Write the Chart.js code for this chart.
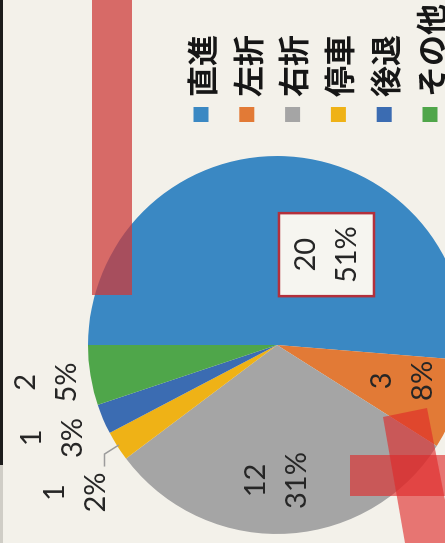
<!DOCTYPE html>
<html lang="ja">
<head>
<meta charset="utf-8">
<title>事故時の車両の動き</title>
<script src="https://cdn.jsdelivr.net/npm/chart.js@4.4.1/dist/chart.umd.min.js"></script>
<style>
  html, body {
    margin: 0;
    padding: 0;
  }
  body {
    width: 445px;
    height: 543px;
    overflow: hidden;
    position: relative;
    background: #f3f1ea;
  }
  /* the sheet is photographed lying on its side */
  #sheet {
    position: absolute;
    left: 0;
    top: 0;
    width: 543px;
    height: 445px;
    overflow: hidden;
    transform-origin: 0 0;
    transform: translate(0, 543px) rotate(-90deg);
  }
  #sheet canvas {
    position: absolute;
    left: 0;
    top: 0;
  }
  .rule {
    position: absolute;
    left: 0;
    top: 0;
    width: 3px;
    height: 465px;
    background: #1c1c1c;
  }
  .rule.faint {
    top: 465px;
    height: 78px;
    background: #cfcdc6;
  }
  .marker {
    position: absolute;
  }
  .marker.bar {
    left: 92px;
    top: 0;
    width: 40px;
    height: 295px;
    background: rgba(205, 58, 56, 0.74);
  }
  .marker.strip {
    left: 350px;
    top: 455px;
    width: 95px;
    height: 41px;
    background: rgba(222, 40, 40, 0.62);
  }
  .marker.slant {
    left: 380px;
    top: 405px;
    width: 65px;
    height: 138px;
    background: rgba(222, 40, 40, 0.62);
    clip-path: polygon(3px 12px, 47px 3px, 65px 95px, 65px 138px, 25px 138px);
  }
</style>
</head>
<body>
<div id="sheet">
  <canvas id="pieChart" width="543" height="480"></canvas>
</div>
<div class="rule"></div>
<div class="rule faint"></div>
<div class="marker bar"></div>
<div class="marker strip"></div>
<div class="marker slant"></div>

<script>
"use strict"

//chart data
const categories = ["直進", "左折", "右折", "停車", "後退", "その他"];
const counts = [20, 3, 12, 1, 1, 2];
const percentLabels = ["51%", "8%", "31%", "2%", "3%", "5%"];

//styles
const sliceColors = ["#3a88c3", "#e27a36", "#a5a5a5", "#efb216", "#3b6cb2", "#4fa64a"];
const textColor = "#262626";

// where each value label sits: distance in pie radii and turn (deg) from the slice middle
const labelPlacement = [
  { dist: 0.545, turn: 26.4, boxed: true },
  { dist: 0.69, turn: -2.5 },
  { dist: 0.717, turn: 2.5 },
  { dist: 1.325, turn: -3.8, leader: true },
  { dist: 1.286, turn: 0.6 },
  { dist: 1.235, turn: 0 }
];

const legendLayout = { boxX: 421, top: 201, step: 45.8, box: 15, gap: 10 };

//plugins
const sliceLabels = {
  id: "sliceLabels",
  afterDatasetsDraw(chart) {
    const ctx = chart.ctx;
    const arcs = chart.getDatasetMeta(0).data;
    const lineGap = 41;
    ctx.save();
    ctx.font = "29px Lato";
    ctx.textAlign = "center";
    ctx.textBaseline = "middle";

    arcs.forEach((arc, i) => {
      const place = labelPlacement[i];
      const mid = (arc.startAngle + arc.endAngle) / 2;
      const ang = mid + place.turn * Math.PI / 180;
      const dist = arc.outerRadius * place.dist;
      const cx = arc.x + Math.cos(ang) * dist;
      const cy = arc.y + Math.sin(ang) * dist;
      const lines = [String(chart.data.datasets[0].data[i]), percentLabels[i]];
      const halfW = Math.max(...lines.map(t => ctx.measureText(t).width)) / 2;

      if (place.boxed) {
        ctx.fillStyle = "#f6f5f0";
        ctx.strokeStyle = "#b3303c";
        ctx.lineWidth = 2.5;
        ctx.fillRect(cx - 41.5, cy - 47.5, 83, 95);
        ctx.strokeRect(cx - 41.5, cy - 47.5, 83, 95);
      }

      if (place.leader) {
        const r = arc.outerRadius;
        const sx = arc.x + Math.cos(mid) * (r - 2);
        const sy = arc.y + Math.sin(mid) * (r - 2);
        const ex = arc.x + Math.cos(mid) * (r + 15);
        const ey = arc.y + Math.sin(mid) * (r + 15);
        ctx.strokeStyle = "#9c9c9c";
        ctx.lineWidth = 1.5;
        ctx.beginPath();
        ctx.moveTo(sx, sy);
        ctx.lineTo(ex, ey);
        ctx.lineTo(cx + halfW + 6, ey);
        ctx.stroke();
      }

      ctx.fillStyle = textColor;
      ctx.fillText(lines[0], cx, cy - lineGap / 2);
      ctx.fillText(lines[1], cx, cy + lineGap / 2);
    });
    ctx.restore();
  }
};

const sideLegend = {
  id: "sideLegend",
  afterDraw(chart) {
    const ctx = chart.ctx;
    ctx.save();
    ctx.font = "bold 31px 'Noto Sans CJK JP'";
    ctx.textAlign = "left";
    ctx.textBaseline = "middle";
    chart.data.labels.forEach((name, i) => {
      const y = legendLayout.top + i * legendLayout.step;
      ctx.fillStyle = sliceColors[i];
      ctx.fillRect(legendLayout.boxX, y - legendLayout.box / 2, legendLayout.box, legendLayout.box);
      ctx.fillStyle = "#161616";
      ctx.fillText(name, legendLayout.boxX + legendLayout.box + legendLayout.gap, y + 1);
    });
    ctx.restore();
  }
};

//draw the chart
const ctx = document.getElementById("pieChart").getContext("2d");

const pieChart = new Chart(ctx, {
  type: "pie",
  data: {
    labels: categories,
    datasets: [{
      data: counts,
      backgroundColor: sliceColors,
      borderWidth: 0
    }]
  },
  options: {
    responsive: false,
    animation: false,
    layout: {
      padding: { left: 9, top: 88, right: 156, bottom: 14 }
    },
    plugins: {
      legend: { display: false },
      tooltip: { enabled: false }
    }
  },
  plugins: [sliceLabels, sideLegend]
});
</script>
</body>
</html>
